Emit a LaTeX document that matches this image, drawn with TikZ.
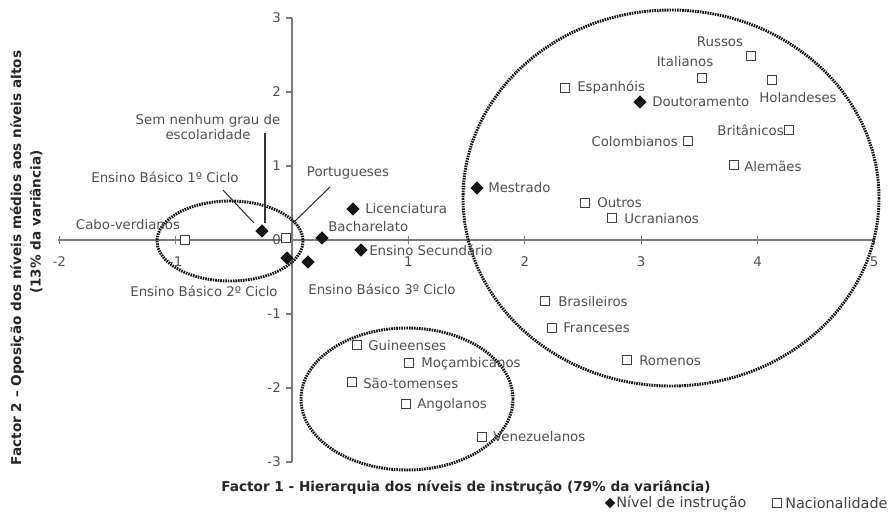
\documentclass[tikz,border=0pt]{standalone}
\usepackage{fontspec}
\setmainfont{DejaVu Sans}
\usetikzlibrary{shapes.geometric}
\definecolor{txt}{HTML}{505050}
\definecolor{axc}{HTML}{7A7A7A}
\definecolor{mk}{HTML}{151515}
\begin{document}
\begin{tikzpicture}[x=0.75pt,y=-0.75pt,
  lbl/.style={inner sep=0pt,text=txt,font=\fontsize{10}{12}\selectfont},
  tck/.style={inner sep=0pt,text=txt,font=\fontsize{10}{12}\selectfont},
  ttl/.style={inner sep=0pt,text=black!85,font=\fontsize{10.2}{12}\selectfont\bfseries},
  leg/.style={inner sep=0pt,text=black!75,font=\fontsize{10.8}{12}\selectfont},
  axis/.style={draw=axc,line width=1pt},
  dmd/.style={diamond,fill=mk,inner sep=0pt,minimum size=10pt},
  sqr/.style={rectangle,draw=black!75,fill=white,line width=0.8pt,inner sep=0pt,minimum size=7pt},
  grp/.style={draw=black!90,line width=2.2pt,dash pattern=on 1.2pt off 0.7pt},
  leader/.style={draw=black!80,line width=0.8pt}]
\useasboundingbox (0,0) rectangle (892,511);
% axes
\coordinate (xl) at (58,240); \coordinate (xr) at (874,240);
\coordinate (yt) at (292,18); \coordinate (yb) at (292,462);
\draw[axis] (xl) -- (xr);
\draw[axis] (yt) -- (yb);
\foreach \k in {-2,-1,0,1,2,3,4,5}{
  \draw[axis] ({292+116.4*\k},236) -- ({292+116.4*\k},244);
}
\foreach \k/\t in {-2/-2,-1/-1,1/1,2/2,3/3,4/4,5/5}{
  \node[tck] (xt\k) at ({292+116.4*\k},262) {\t};
}
\foreach \k/\t in {-3/-3,-2/-2,-1/-1,0/0,1/1,2/2,3/3}{
  \draw[axis] (286,{240-74*\k}) -- (292,{240-74*\k});
  \node[tck,anchor=east] (yt\k) at (281,{240-74*\k}) {\t};
}
% group ellipses
\draw[grp] (230,241) ellipse [x radius=73, y radius=40];
\draw[grp] (407,399) ellipse [x radius=106, y radius=71];
\draw[grp] (671,198) ellipse [x radius=208, y radius=188];
% leader lines
\coordinate (l1a) at (223,190); \coordinate (l1b) at (254,223);
\coordinate (l2a) at (265,133); \coordinate (l2b) at (265,223);
\coordinate (l3a) at (330,187); \coordinate (l3b) at (293,223);
\draw[leader] (l1a) -- (l1b);
\draw[leader] (l2a) -- (l2b);
\draw[leader] (l3a) -- (l3b);
% nationality squares
\node[sqr] (cabo) at (185,240) {};
\node[sqr] (port) at (286,238) {};
\node[sqr] (esp) at (565,88) {};
\node[sqr] (rus) at (751,56) {};
\node[sqr] (ita) at (702,78) {};
\node[sqr] (hol) at (772,80) {};
\node[sqr] (bri) at (789,130) {};
\node[sqr] (col) at (688,141) {};
\node[sqr] (ale) at (734,165) {};
\node[sqr] (out) at (585,203) {};
\node[sqr] (ucr) at (612,218) {};
\node[sqr] (bra) at (545,301) {};
\node[sqr] (fra) at (552,328) {};
\node[sqr] (rom) at (627,360) {};
\node[sqr] (gui) at (357,345) {};
\node[sqr] (moc) at (409,363) {};
\node[sqr] (sto) at (352,382) {};
\node[sqr] (ang) at (406,404) {};
\node[sqr] (ven) at (482,437) {};
% education diamonds
\node[dmd] (sem) at (262,231) {};
\node[dmd] (eb2) at (287,258) {};
\node[dmd] (eb3) at (308,262) {};
\node[dmd] (bac) at (322,238) {};
\node[dmd] (lic) at (353,209) {};
\node[dmd] (sec) at (361,250) {};
\node[dmd] (mes) at (477,188) {};
\node[dmd] (dou) at (640,102) {};
% labels
\node[lbl,align=center] (lsem) at (208,127) {Sem nenhum grau de\\[-1.2pt]escolaridade};
\node[lbl] (leb1) at (165,177) {Ensino Básico 1º Ciclo};
\node[lbl] (lcabo) at (128,225) {Cabo-verdianos};
\node[lbl] (lport) at (348,173) {Portugueses};
\node[lbl] (leb2) at (204,291) {Ensino Básico 2º Ciclo};
\node[lbl] (leb3) at (382,289) {Ensino Básico 3º Ciclo};
\node[lbl,anchor=west] (lbac) at (328,227) {Bacharelato};
\node[lbl,anchor=west] (llic) at (365,209) {Licenciatura};
\node[lbl,anchor=west] (lsec) at (369,250) {Ensino Secundário};
\node[lbl,anchor=west] (lmes) at (488,188) {Mestrado};
\node[lbl,anchor=west] (ldou) at (652,102) {Doutoramento};
\node[lbl,anchor=west] (lesp) at (577,88) {Espanhóis};
\node[lbl] (lita) at (685,62) {Italianos};
\node[lbl] (lrus) at (720,42) {Russos};
\node[lbl] (lhol) at (798,98) {Holandeses};
\node[lbl,anchor=east] (lbri) at (784,130) {Britânicos};
\node[lbl,anchor=east] (lcol) at (678,142) {Colombianos};
\node[lbl,anchor=west] (lale) at (744,166) {Alemães};
\node[lbl,anchor=west] (lout) at (597,203) {Outros};
\node[lbl,anchor=west] (lucr) at (624,219) {Ucranianos};
\node[lbl,anchor=west] (lbra) at (558,302) {Brasileiros};
\node[lbl,anchor=west] (lfra) at (563,328) {Franceses};
\node[lbl,anchor=west] (lrom) at (639,361) {Romenos};
\node[lbl,anchor=west] (lgui) at (368,346) {Guineenses};
\node[lbl,anchor=west] (lmoc) at (421,364) {Moçambicanos};
\node[lbl,anchor=west] (lsto) at (363,383) {São-tomenses};
\node[lbl,anchor=west] (lang) at (417,405) {Angolanos};
\node[lbl,anchor=west] (lven) at (493,437) {Venezuelanos};
% axis titles
\node[ttl] (xtitle) at (466,487) {Factor 1 - Hierarquia dos níveis de instrução (79\% da variância)};
\node[ttl,rotate=90] (ytitle1) at (17,258) {Factor 2 – Oposição dos níveis médios aos níveis altos};
\node[ttl,rotate=90] (ytitle2) at (36,222) {(13\% da variância)};
% legend
\node[dmd,minimum size=8pt] (legd) at (610,503) {};
\node[leg,anchor=west] (legdt) at (616,503) {Nível de instrução};
\node[sqr,minimum size=7pt] (legs) at (777,503) {};
\node[leg,anchor=west] (legst) at (785,503) {Nacionalidade};
\end{tikzpicture}
\end{document}
